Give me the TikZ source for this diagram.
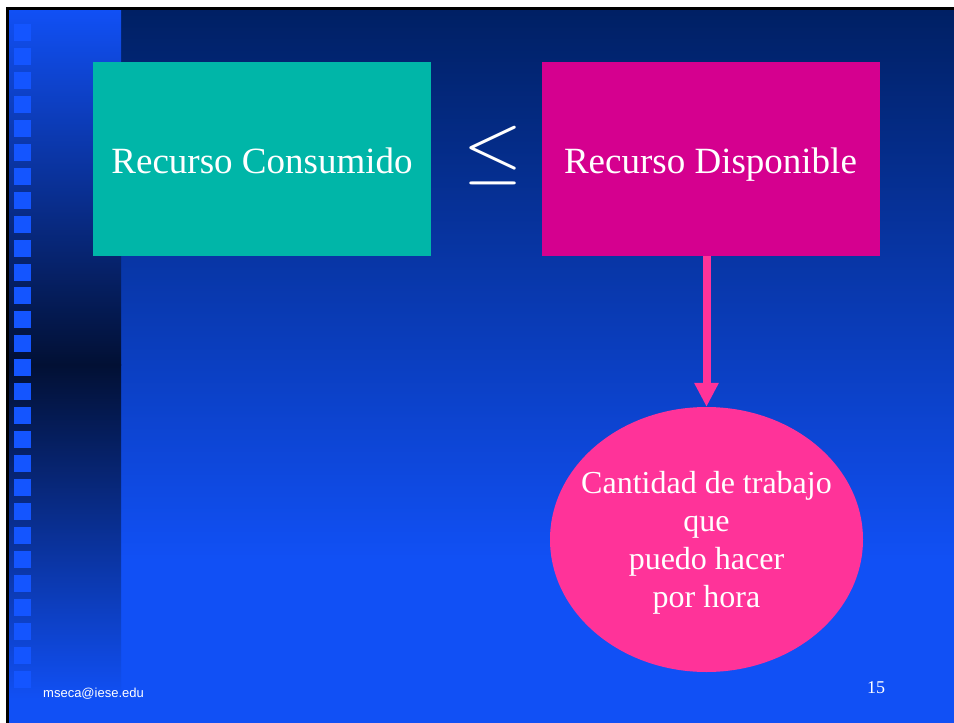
\documentclass[tikz,border=0pt]{standalone}
\usepackage{fontspec}
\setmainfont{Liberation Serif}
\newfontfamily\footfont{Liberation Sans}
\usepackage{tikz}
\usetikzlibrary{shapes.geometric, arrows.meta, calc}
\definecolor{bgdark}{RGB}{0, 32, 100}
\definecolor{bgbright}{RGB}{17, 80, 245}
\definecolor{stripdark}{RGB}{2, 16, 52}
\definecolor{square}{RGB}{20, 85, 255}
\definecolor{tealbox}{RGB}{0, 182, 168}
\definecolor{magentabox}{RGB}{213, 0, 143}
\definecolor{pinkbubble}{RGB}{255, 51, 153}

\begin{document}
\begin{tikzpicture}[x=1pt, y=-1pt,
  box/.style={minimum width=338pt, minimum height=194pt, inner sep=0pt,
    text height=28pt, text depth=0pt,
    text=white, font=\fontsize{37}{44}\selectfont},
  bubble/.style={ellipse, fill=pinkbubble, minimum width=313pt,
    minimum height=265pt, inner xsep=-20pt, inner ysep=0pt, align=center,
    text=white, font=\fontsize{32}{38}\selectfont},
  pinkarrow/.style={draw=pinkbubble, line width=8pt,
    -{Triangle[width=23pt, length=24pt]}}]
  \useasboundingbox (0, 0) rectangle (954, 723);
  \fill[white] (0, 0) rectangle (954, 723);

  \begin{scope}
    \fill[top color=bgdark, bottom color=bgbright] (9, 10) rectangle (954, 560);
    \fill[bgbright] (9, 559.5) rectangle (954, 723);
    \fill[top color=bgbright, bottom color=stripdark] (9, 10) rectangle (121, 365);
    \fill[top color=stripdark, bottom color=bgbright] (9, 364.5) rectangle (121, 700);
    \foreach \k in {0, ..., 27} {
      \fill[square] (14, {24 + 23.95 * \k}) rectangle ++(17, 17);
    }
    \fill[black] (6, 7) rectangle (954, 10);
    \fill[black] (6, 7) rectangle (9, 723);
  \end{scope}

  \node[box, fill=tealbox] (consumido) at (262, 159) {Recurso Consumido};
  \node[box, fill=magentabox] (disponible) at (710.5, 159) {Recurso Disponible};
  \node[text=white, inner sep=0pt] (menor) at (493.5, 155) {\scalebox{7.6}{$\leq$}};

  \node[bubble] (trabajo) at (706.5, 539.5)
    {\rule{0pt}{28pt}Cantidad de trabajo\\que\\puedo hacer\\por hora};
  \draw[pinkarrow] (trabajo.north |- disponible.south) -- (trabajo.north);

  \node[anchor=base west, text=white, inner sep=0pt,
    font=\footfont\fontsize{13}{15}\selectfont] (correo) at (43, 697) {mseca@iese.edu};
  \node[anchor=base west, text=white, inner sep=0pt,
    font=\fontsize{18}{20}\selectfont] (pagina) at (867, 693) {15};
\end{tikzpicture}
\end{document}
